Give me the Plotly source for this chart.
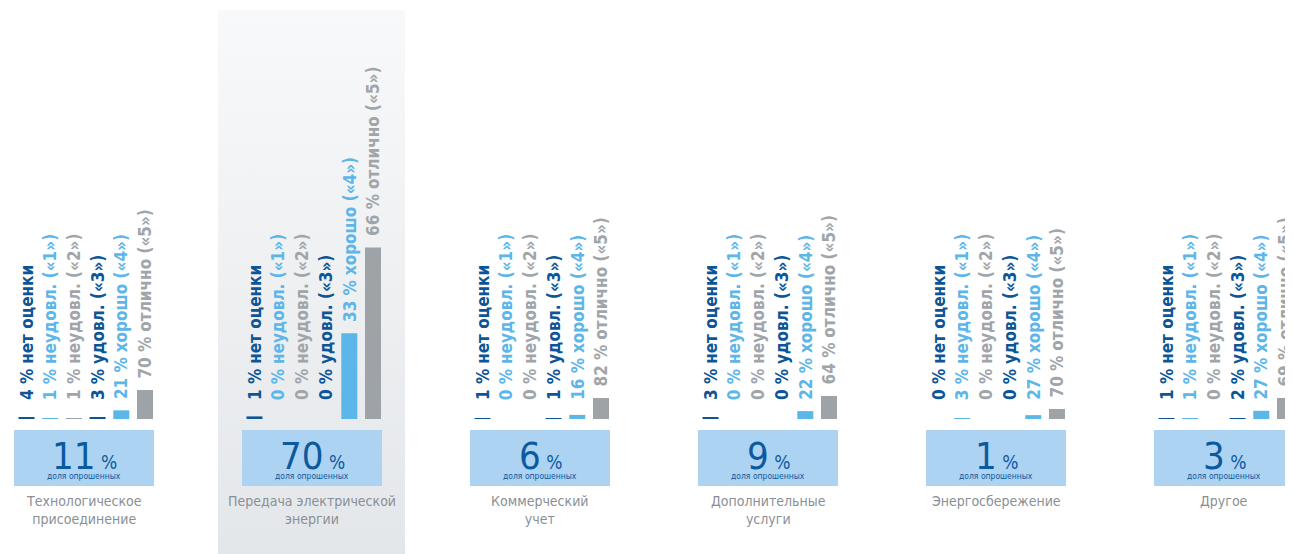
import plotly.graph_objects as go

# ---------------- data ----------------
categories = ["Технологическое<br>присоединение", "Передача электрической<br>энергии",
              "Коммерческий<br>учет", "Дополнительные<br>услуги", "Энергосбережение", "Другое"]
shares = [11, 70, 6, 9, 1, 3]  # доля опрошенных, %
grades = ["нет оценки", "неудовл. («1»)", "неудовл. («2»)", "удовл. («3»)", "хорошо («4»)", "отлично («5»)"]
no_grade = [4, 1, 1, 3, 0, 1]
grade_1 = [1, 0, 0, 0, 3, 1]
grade_2 = [1, 0, 0, 0, 0, 0]
grade_3 = [3, 0, 1, 0, 0, 2]
grade_4 = [21, 33, 16, 22, 27, 27]
grade_5 = [70, 66, 82, 64, 70, 69]
series = [no_grade, grade_1, grade_2, grade_3, grade_4, grade_5]

# ---------------- style ----------------
W, H = 1293, 554
GP = 228.0          # px per group
FIRST = 76.0        # px centre of first group (figure coords)
BASE = 143.0        # baseline px from bottom
px_per_pct = [0.414, 2.6, 0.256, 0.36, 0.143, 0.304]   # per-panel bar scale
DARK, LIGHT, GRAY = "#0c5597", "#5db6e9", "#a0a5aa"
colors = [DARK, LIGHT, GRAY, DARK, LIGHT, GRAY]
BAR_GRAY = "#9ea3a8"
bar_colors = [DARK, LIGHT, BAR_GRAY, DARK, LIGHT, BAR_GRAY]
offsets = [(-57.5 + k * 23.7) / GP for k in range(6)]
bar_w = 16 / GP
LABEL_FONT = "Liberation Sans Narrow, DejaVu Sans Condensed, Roboto, sans-serif"

fig = go.Figure()

# highlighted column background (gradient)
bx0, bx1 = 1 - 94 / GP, 1 + 93 / GP
fig.add_trace(go.Scatter(
    x=[bx0, bx1, bx1, bx0, bx0], y=[-10, -10, H - 2, H - 2, -10],
    mode="lines", line=dict(width=0), fill="toself",
    fillgradient=dict(type="vertical", colorscale=[[0, "#e3e6e9"], [1, "#f8f9fa"]]),
    hoverinfo="skip", showlegend=False, xaxis="x", yaxis="y"))

annotations = []
shapes = []
layout_axes = {}
for g in range(len(categories)):
    ax = "y%d" % (g + 2)
    vals = [series[k][g] for k in range(6)]
    fig.add_trace(go.Bar(
        x=[g + o for o in offsets], y=vals, width=bar_w,
        marker=dict(color=bar_colors, line=dict(width=0)),
        showlegend=False, hoverinfo="skip", xaxis="x", yaxis=ax))
    s = px_per_pct[g]
    layout_axes["yaxis%d" % (g + 2)] = dict(
        range=[-BASE / s, (H - BASE) / s], overlaying="y", visible=False, fixedrange=True)
    # rotated labels
    for k in range(6):
        v = vals[k]
        h = v * s
        if h + 9 < 17:
            y, ys = 0, 17
        else:
            y, ys = v, 9
        annotations.append(dict(
            x=g + offsets[k], y=y, xref="x", yref=ax, yshift=ys,
            text="<b>%d %%</b> <b>%s</b>" % (v, grades[k]),
            textangle=-90, xanchor="center", yanchor="bottom", showarrow=False,
            font=dict(family=LABEL_FONT, size=17, color=colors[k])))
    # share box
    shapes.append(dict(type="rect", xref="x", yref="y",
                       x0=g - 70 / GP, x1=g + 70 / GP, y0=76, y1=132,
                       fillcolor="#add3f2", line=dict(width=0), layer="above"))
    annotations.append(dict(
        x=g, y=H - 447.5, xref="x", yref="y", xanchor="center", yanchor="middle",
        text="%d<span style='font-size:19px'> %%</span>" % shares[g], showarrow=False,
        font=dict(family=LABEL_FONT, size=38, color="#0b5aa0")))
    annotations.append(dict(
        x=g, y=H - 468, xref="x", yref="y", xanchor="center", yanchor="middle",
        text="доля опрошенных", showarrow=False,
        font=dict(family=LABEL_FONT, size=8.5, color="#0b5aa0")))
    annotations.append(dict(
        x=g, y=H - 483, xref="x", yref="y", xanchor="center", yanchor="top",
        text=categories[g], showarrow=False,
        font=dict(family=LABEL_FONT, size=14, color="#8a8f95")))

fig.update_layout(
    width=W, height=H, margin=dict(l=0, r=0, t=0, b=0),
    paper_bgcolor="white", plot_bgcolor="rgba(0,0,0,0)",
    barmode="overlay", showlegend=False,
    xaxis=dict(range=[-FIRST / GP, (W - FIRST) / GP], visible=False, fixedrange=True),
    yaxis=dict(range=[0, H], visible=False, fixedrange=True),
    annotations=annotations, shapes=shapes,
    **layout_axes)

fig.write_html("out.html")
